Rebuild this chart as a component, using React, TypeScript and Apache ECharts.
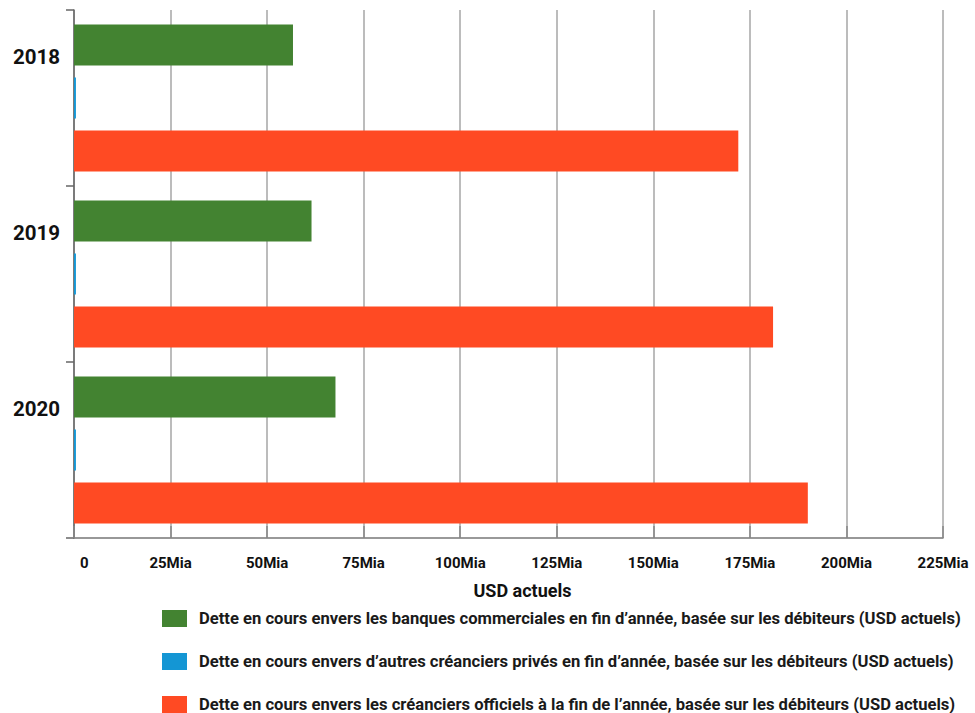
import React, { useEffect, useRef } from "react";
import * as echarts from "echarts";

const years = ["2018", "2019", "2020"];
const banquesCommerciales = [56.7, 61.5, 67.7];
const autresPrives = [0.5, 0.5, 0.5];
const creanciersOfficiels = [172.0, 181.0, 190.0];
const seriesNames = [
  "Dette en cours envers les banques commerciales en fin d’année, basée sur les débiteurs (USD actuels)",
  "Dette en cours envers d’autres créanciers privés en fin d’année, basée sur les débiteurs (USD actuels)",
  "Dette en cours envers les créanciers officiels à la fin de l’année, basée sur les débiteurs (USD actuels)",
];
const colors = ["#438331", "#1496d4", "#ff4a23"];

const FONT = "Roboto";

export default function App() {
  const ref = useRef<HTMLDivElement>(null);

  useEffect(() => {
    if (!ref.current) return;
    const chart = echarts.init(ref.current, null, { renderer: "svg" });
    const values = [banquesCommerciales, autresPrives, creanciersOfficiels];
    chart.setOption({
      animation: false,
      backgroundColor: "#ffffff",
      textStyle: { fontFamily: FONT },
      grid: { left: 74, right: 32, top: 10, bottom: 175, containLabel: false },
      legend: {
        orient: "vertical",
        left: 162,
        top: 610,
        padding: 0,
        height: 110,
        itemWidth: 25,
        itemHeight: 17,
        itemGap: 26,
        icon: "rect",
        textStyle: { fontFamily: FONT, fontWeight: "bold", fontSize: 16.6, color: "#1a1a1a", padding: [0, 0, 0, 7] },
        data: seriesNames,
      },
      xAxis: {
        type: "value",
        min: 0,
        max: 225,
        interval: 25,
        name: "USD actuels",
        nameLocation: "middle",
        nameGap: 43,
        nameTextStyle: { fontFamily: FONT, fontWeight: "bold", fontSize: 18, color: "#111", padding: [0, 0, 0, 28] },
        axisLine: { show: true, lineStyle: { color: "#777", width: 1.5 } },
        axisTick: { show: true, inside: true, length: 12, lineStyle: { color: "#888", width: 1.5 } },
        splitLine: { show: true, lineStyle: { color: "#a6a6a6", width: 1.5 } },
        axisLabel: {
          fontFamily: FONT,
          fontWeight: "bold",
          fontSize: 15,
          color: "#111",
          margin: 17,
          alignMinLabel: "left",
          formatter: (v: number) => (v === 0 ? "{zero|0}" : `${v}Mia`),
          rich: {
            zero: { fontFamily: FONT, fontWeight: "bold", fontSize: 15, color: "#111", padding: [0, 0, 0, 6] },
          },
        },
      },
      yAxis: {
        type: "category",
        data: years,
        inverse: true,
        axisLine: { show: true, lineStyle: { color: "#666", width: 1.5 } },
        axisTick: { show: true, length: 8, lineStyle: { color: "#666", width: 1.5 } },
        splitLine: { show: false },
        axisLabel: {
          margin: 14,
          // year sits in the upper part of its band: a tall empty line below pushes it up
          formatter: (v: string) => `{y|${v}}\n{gap|}`,
          rich: {
            y: { fontFamily: FONT, fontWeight: "bold", fontSize: 20.5, color: "#111", lineHeight: 24 },
            gap: { height: 83, lineHeight: 83 },
          },
        },
      },
      series: seriesNames.map((name, i) => ({
        name,
        type: "bar",
        data: values[i],
        barWidth: 41,
        barGap: "29%",
        itemStyle: { color: colors[i] },
      })),
    });
    return () => chart.dispose();
  }, []);

  return <div ref={ref} style={{ width: 975, height: 713, position: "absolute", left: 0, top: 0 }} />;
}
